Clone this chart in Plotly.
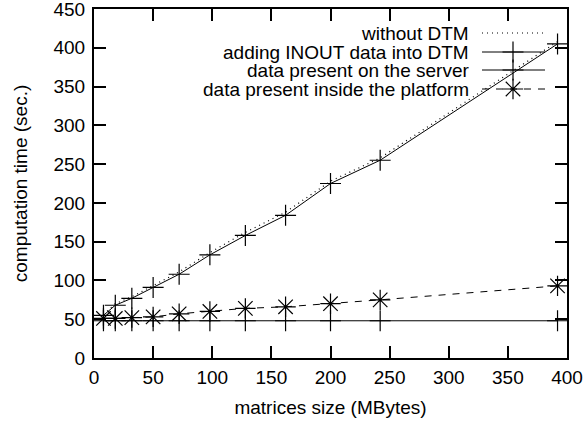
import plotly.graph_objects as go

# ---- data ----
sizes = [8, 18, 32, 50, 72, 98, 128, 162, 200, 242, 392]
without_dtm = [56, 70, 79, 93, 111, 136, 162, 188, 228, 258, 408]
adding_inout = [55, 68, 77, 91, 108, 133, 158, 184, 225, 255, 405]
on_server = [48, 48, 48, 48, 48, 48, 48, 48, 48, 48, 48]
inside_platform = [51, 51, 52, 53, 57, 60, 64, 66, 70, 75, 93]

series_names = ["without DTM", "adding INOUT data into DTM",
                "data present on the server", "data present inside the platform"]
x_ticks = [0, 50, 100, 150, 200, 250, 300, 350, 400]
y_ticks = [0, 50, 100, 150, 200, 250, 300, 350, 400, 450]

FONT = "Liberation Sans"
FS = 19
W, H = 586, 423
L, R, T, B = 94, 19, 9, 65

fig = go.Figure()

plus_marker = dict(symbol="cross-thin-open", size=15, color="black",
                   line=dict(color="black", width=1.2))
star_marker = dict(symbol="asterisk-open", size=17, color="black",
                   line=dict(color="black", width=1.2))
styles = [
    dict(mode="lines", line=dict(color="black", width=1.2, dash="1px,4px"), marker=None),
    dict(mode="lines+markers", line=dict(color="black", width=1), marker=plus_marker),
    dict(mode="lines+markers", line=dict(color="black", width=1), marker=plus_marker),
    dict(mode="lines+markers", line=dict(color="black", width=1, dash="7px,7px"),
         marker=star_marker),
]
values = [without_dtm, adding_inout, on_server, inside_platform]

for name, vals, st in zip(series_names, values, styles):
    kw = dict(x=sizes, y=vals, name=name, mode=st["mode"], line=st["line"], showlegend=False)
    if st["marker"] is not None:
        kw["marker"] = st["marker"]
    fig.add_trace(go.Scatter(**kw))

# ---- gnuplot-style key (text right-aligned, sample to the right) ----
key_rows = [33, 52, 70, 89]
key_text_right = 471
key_x0, key_x1, key_xm = 482, 545, 513
for i, (name, st) in enumerate(zip(series_names, styles)):
    yk = key_rows[i]
    fig.add_annotation(x=key_text_right, y=yk, xref="x2", yref="y2", text=name,
                       showarrow=False, xanchor="right", yanchor="middle",
                       font=dict(family=FONT, size=FS, color="black"))
    fig.add_trace(go.Scatter(x=[key_x0, key_x1], y=[yk, yk], xaxis="x2", yaxis="y2",
                             mode="lines", line=st["line"], showlegend=False, hoverinfo="skip"))
    if st["marker"] is not None:
        fig.add_trace(go.Scatter(x=[key_xm], y=[yk], xaxis="x2", yaxis="y2",
                                 mode="markers", marker=st["marker"], showlegend=False,
                                 hoverinfo="skip"))

axis_common = dict(showgrid=False, zeroline=False, showline=True, linecolor="black",
                   linewidth=2, mirror="ticks", ticks="inside", ticklen=12, tickwidth=2,
                   tickcolor="black", automargin=False, ticklabeloverflow="allow",
                   tickfont=dict(family=FONT, size=FS, color="black"))

fig.update_layout(
    width=W, height=H,
    margin=dict(l=L, r=R, t=T, b=B, autoexpand=False),
    paper_bgcolor="white", plot_bgcolor="white",
    font=dict(family=FONT, size=FS, color="black"),
    xaxis=dict(range=[0, 400], tickvals=x_ticks, ticktext=[str(v) for v in x_ticks],
               ticklabelstandoff=1,
               title=dict(text="matrices size (MBytes)", font=dict(family=FONT, size=FS),
                          standoff=14),
               **axis_common),
    yaxis=dict(range=[0, 450], tickvals=y_ticks, ticktext=[str(v) for v in y_ticks],
               ticklabelstandoff=3,
               title=dict(text="computation time (sec.)", font=dict(family=FONT, size=FS),
                          standoff=21),
               **axis_common),
    xaxis2=dict(range=[L, W - R], overlaying="x", visible=False, fixedrange=True),
    yaxis2=dict(range=[H - B, T], overlaying="y", visible=False, fixedrange=True),
    showlegend=False,
)

fig.write_html("out.html", config={"displayModeBar": False},
               post_script="document.body.style.margin='0';document.body.style.overflow='hidden';")
